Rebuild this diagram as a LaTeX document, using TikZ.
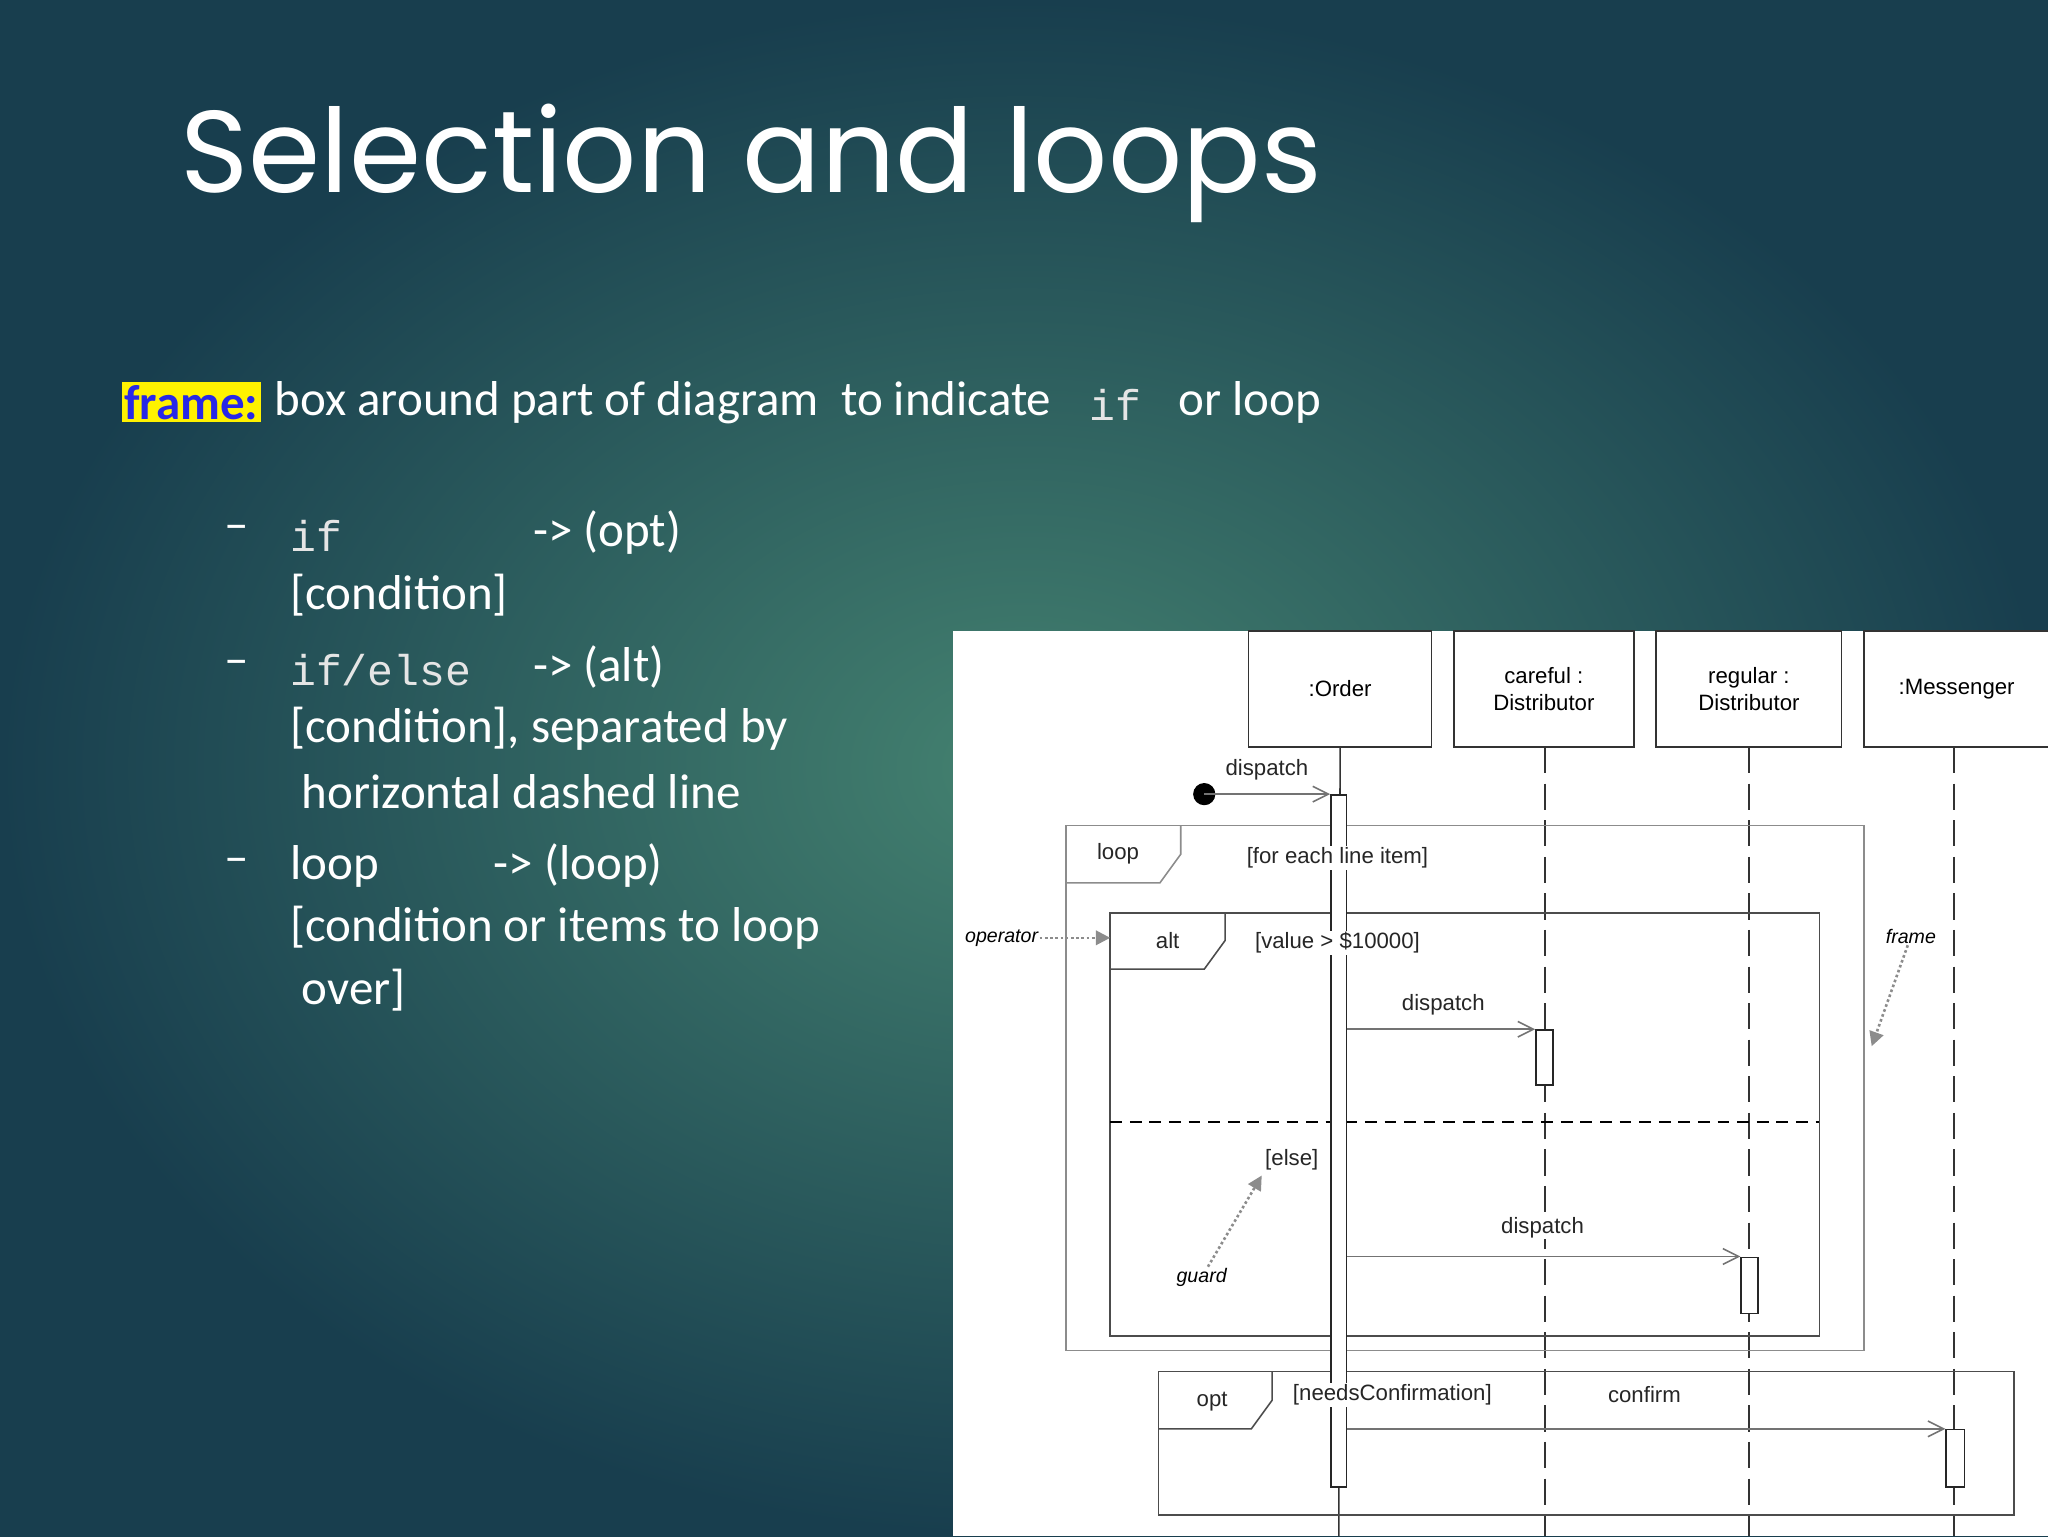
\documentclass[tikz,border=0pt]{standalone}
\usepackage{fontspec}
\setmainfont{Carlito}
\newfontfamily\ttl{Poppins}
\newfontfamily\dia{Liberation Sans}
\newfontfamily\mon{Liberation Mono}
\usetikzlibrary{arrows.meta}
\begin{document}
\begin{tikzpicture}[x=1pt,y=-1pt,
 body/.style={anchor=west,text=white,font=\fontsize{37.5}{40}\selectfont,inner sep=0},
 mono/.style={anchor=west,text=white!80!gray,font=\mon\fontsize{33}{40}\selectfont,inner sep=0},
 dt/.style={font=\dia\fontsize{17}{20}\selectfont,inner sep=1pt,text=black!85,fill=white},
 head/.style={draw=black!80,line width=1.2pt,fill=white,align=center,font=\dia\fontsize{17}{21}\selectfont,inner sep=0},
 life/.style={line width=1.2pt,black!80,dash pattern=on 20pt off 8pt},
 fr/.style={draw=black!70,line width=1.2pt},
 msg/.style={line width=1.2pt,black!55,-{Straight Barb[length=12pt,width=12pt]}},
 act/.style={draw=black!85,fill=white,line width=1.2pt},
 note/.style={gray!90,line width=2pt,dotted,-{Triangle[length=11pt,width=11pt]}},
 it/.style={font=\dia\itshape\fontsize{15}{18}\selectfont,inner sep=1pt}]
\useasboundingbox (0,0) rectangle (1568,1176);
\shade[inner color={rgb,255:red,68;green,130;blue,112},outer color={rgb,255:red,24;green,62;blue,78}] (0,0) rectangle (1568,1176);
% title
\node[anchor=west,text=white,font=\ttl\fontsize{89}{100}\selectfont,inner sep=0] (title) at (138,125) {Selection and loops};
% intro
\node[anchor=west,fill=yellow,text={rgb,255:red,40;green,40;blue,230},font=\bfseries\fontsize{37.5}{40}\selectfont,inner sep=2pt] (fr) at (93,308) {frame:};
\node[body] (t1) at (210,308) {box around part of diagram\ \ to indicate};
\node[mono] (t2) at (834,310) {if};
\node[body] (t3) at (902,308) {or loop};
% bullets
\foreach \y/\n in {408/d1,511/d2,663/d3} \node[body] (\n) at (172,\y) {\textendash};
\node[mono] (b1) at (222,410) {if};
\node[body] (b1b) at (408,408) {-> (opt)};
\node[body] (b1c) at (222,456) {[condition]};
\node[mono] (b2) at (222,513) {if/else};
\node[body] (b2b) at (408,511) {-> (alt)};
\node[body] (b2c) at (222,558) {[condition], separated by};
\node[body] (b2d) at (231,606) {horizontal dashed line};
\node[body] (b3) at (222,663) {loop};
\node[body] (b3b) at (378,663) {-> (loop)};
\node[body] (b3c) at (222,710) {[condition or items to loop};
\node[body] (b3d) at (231,758) {over]};
% diagram
\fill[white] (730,483) rectangle (1568,1176);
\begin{scope}
\clip (730,483) rectangle (1568,1176);
\node[head,minimum width=140pt,minimum height=89pt] (o) at (1026,527.5) {:Order};
\node[head,minimum width=138pt,minimum height=89pt] (c) at (1182,527.5) {careful :\\Distributor};
\node[head,minimum width=142pt,minimum height=89pt] (r) at (1339,527.5) {regular :\\Distributor};
\node[head,minimum width=142pt,minimum height=89pt] (m) at (1498,527.5) {:Messenger};
\coordinate (oe) at (1025,1176);
\coordinate (ce) at (1183,1176);
\coordinate (re) at (1339,1176);
\coordinate (me) at (1496,1176);
\draw[line width=1.2pt,black!80] (o.south) -- (oe);
\draw[life] (1183,572) -- (ce);
\draw[life] (1339,572) -- (re);
\draw[life] (1496,572) -- (me);
% loop frame
\draw[fr,black!45] (816,632) rectangle (1427,1034);
\draw[fr,black!45] (816,676) -- (888,676) -- (904,654) -- (904,632);
% alt frame
\draw[fr] (850,699) rectangle (1393,1023);
\draw[fr] (850,742) -- (922,742) -- (938,720) -- (938,699);
\draw[line width=1.2pt,dash pattern=on 9pt off 6pt] (850,859) -- (1393,859);
% opt frame
\draw[fr] (887,1050) rectangle (1542,1160);
\draw[fr] (887,1094) -- (958,1094) -- (974,1072) -- (974,1050);
% activation
\node[act,minimum width=12pt,minimum height=530pt,inner sep=0,anchor=north] (oa) at (1025,608) {};
\node[act,minimum width=13pt,minimum height=42pt,inner sep=0,anchor=north] (ca) at (1182.5,788) {};
\node[act,minimum width=13pt,minimum height=43pt,inner sep=0,anchor=north] (ra) at (1339.5,962) {};
\node[act,minimum width=14pt,minimum height=44pt,inner sep=0,anchor=north] (ma) at (1497,1094) {};
% labels
\node[dt] (lp) at (856,654) {loop};
\node[dt] (lpg) at (1024,657) {[for each line item]};
\node[dt] (al) at (894,720) {alt};
\node[dt] (alg) at (1024,722) {[value > \$10000]};
\node[dt] (el) at (989,888) {[else]};
\node[dt] (op) at (928,1073) {opt};
\node[dt] (opg) at (1066,1068) {[needsConfirmation]};
% messages
\fill[black] (922,608) circle (8.5pt);
\coordinate (st) at (922,608);
\draw[msg] (st) -- (oa.north west);
\node[dt] (m1) at (970,589) {dispatch};
\draw[msg] (1031,788) -- (ca.north west);
\node[dt] (m2) at (1105,769) {dispatch};
\draw[msg] (1031,962) -- (ra.north west);
\node[dt] (m3) at (1181,940) {dispatch};
\draw[msg] (1031,1094) -- (ma.north west);
\node[dt] (m4) at (1259,1068) {confirm};
% annotations
\node[it,anchor=east] (opr) at (796,718) {operator};
\coordinate (altl) at (850,718);
\draw[note] (opr) -- (altl);
\node[it] (gd) at (920,978) {guard};
\coordinate (gt) at (966,900);
\draw[note] (gd) -- (gt);
\node[it] (fm) at (1463,717) {frame};
\coordinate (ft) at (1433,801);
\draw[note] (fm) -- (ft);
\end{scope}
\end{tikzpicture}
\end{document}
